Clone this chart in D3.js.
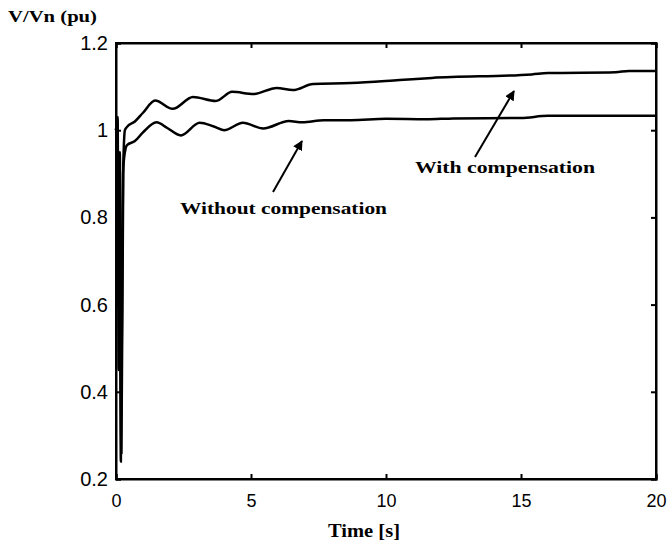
<!DOCTYPE html>
<html>
<head>
<meta charset="utf-8">
<script src="https://cdn.jsdelivr.net/npm/d3@7"></script>
<style>
  body { margin: 0; background: #fff; }
  .tick text { font-family: "Liberation Sans", Arial, sans-serif; }
  .lbl { font-family: "Liberation Serif", "DejaVu Serif", serif; font-weight: bold; }
</style>
</head>
<body>
<script>
// time [s], voltage [pu]
var withoutTime = [0, 0.05, 0.09, 0.13, 0.18, 0.26, 0.33, 0.41, 0.7, 1.0, 1.5, 1.9, 2.4, 3.1, 3.6, 4.0, 4.7, 5.45, 6.4, 6.9, 7.7, 8.7, 10, 11.5, 12.5, 15, 16, 20];
var withoutV    = [1.0, 1.02, 0.6, 0.9, 0.24, 0.9, 0.95, 0.966, 0.975, 0.995, 1.018, 1.005, 0.988, 1.017, 1.009, 1.0, 1.017, 1.004, 1.021, 1.018, 1.023, 1.023, 1.026, 1.025, 1.027, 1.028, 1.033, 1.033];

var withTime = [0, 0.06, 0.1, 0.14, 0.2, 0.27, 0.33, 0.4, 0.7, 1.0, 1.45, 2.1, 2.85, 3.7, 4.3, 5.1, 5.95, 6.55, 7.3, 8.7, 10.5, 11.7, 15.4, 16, 18.5, 19, 20];
var withV    = [1.0, 1.03, 0.45, 0.95, 0.26, 0.92, 1.0, 1.007, 1.02, 1.04, 1.068, 1.049, 1.076, 1.067, 1.088, 1.083, 1.097, 1.092, 1.106, 1.108, 1.115, 1.12, 1.128, 1.131, 1.133, 1.136, 1.136];

var xTicks = [0, 5, 10, 15, 20];
var yTicks = [0.2, 0.4, 0.6, 0.8, 1, 1.2];

var width = 669, height = 544,
    marginLeft = 116, marginTop = 43, marginRight = 13, marginBottom = 65,
    chartWidth = width - marginLeft - marginRight,
    chartHeight = height - marginTop - marginBottom;

var svg = d3.select("body").append("svg")
    .attr("width", width)
    .attr("height", height);

var chart = svg.append("g")
    .attr("transform", "translate(" + marginLeft + "," + marginTop + ")");

var xScale = d3.scaleLinear().domain([0, 20]).range([0, chartWidth]);
var yScale = d3.scaleLinear().domain([0.2, 1.2]).range([chartHeight, 0]);

// axes, ticks pointing inward like the original
var xAxis = d3.axisBottom(xScale).tickValues(xTicks).tickSize(-5).tickPadding(15)
    .tickFormat(d3.format("d"));
chart.append("g")
    .attr("class", "x axis")
    .attr("transform", "translate(0," + chartHeight + ")")
    .call(xAxis);

var yAxis = d3.axisLeft(yScale).tickValues(yTicks).tickSize(-5).tickPadding(8)
    .tickFormat(function(d) { return d === 1 ? "1" : d3.format(".1f")(d); });
chart.append("g").attr("class", "y axis").call(yAxis);

chart.append("g").call(d3.axisTop(xScale).tickValues(xTicks).tickSize(-5).tickFormat(""));
chart.append("g").attr("transform", "translate(" + chartWidth + ",0)")
    .call(d3.axisRight(yScale).tickValues(yTicks).tickSize(-5).tickFormat(""));

chart.selectAll(".domain").attr("stroke", "#000").attr("stroke-width", 2);
chart.selectAll(".tick line").attr("stroke", "#000").attr("stroke-width", 2);
chart.selectAll(".x.axis .tick text").style("font-size", "18px").attr("fill", "#000");
chart.selectAll(".y.axis .tick text").style("font-size", "20px").attr("fill", "#000");

// box
chart.append("rect")
    .attr("width", chartWidth).attr("height", chartHeight)
    .attr("fill", "none").attr("stroke", "#000").attr("stroke-width", 2);

var line = d3.line()
    .x(function(d) { return xScale(d[0]); })
    .y(function(d) { return yScale(d[1]); })
    .curve(d3.curveMonotoneX);

var series = [d3.zip(withoutTime, withoutV), d3.zip(withTime, withV)];
chart.selectAll(".curve")
    .data(series)
    .enter()
    .append("path")
        .attr("class", "curve")
        .attr("d", line)
        .attr("fill", "none")
        .attr("stroke", "#000")
        .attr("stroke-width", 2.5);

// labels
svg.append("text").attr("class", "lbl")
    .attr("x", 8).attr("y", 22)
    .attr("textLength", 89).attr("lengthAdjust", "spacingAndGlyphs")
    .style("font-size", "17px")
    .text("V/Vn (pu)");

svg.append("text").attr("class", "lbl")
    .attr("x", 328).attr("y", 537)
    .attr("textLength", 72).attr("lengthAdjust", "spacingAndGlyphs")
    .style("font-size", "18px")
    .text("Time [s]");

svg.append("text").attr("class", "lbl")
    .attr("x", 180).attr("y", 214)
    .attr("textLength", 207).attr("lengthAdjust", "spacingAndGlyphs")
    .style("font-size", "17px")
    .text("Without compensation");

svg.append("text").attr("class", "lbl")
    .attr("x", 415).attr("y", 173)
    .attr("textLength", 180).attr("lengthAdjust", "spacingAndGlyphs")
    .style("font-size", "17px")
    .text("With compensation");

// arrows
svg.append("defs").append("marker")
    .attr("id", "head").attr("viewBox", "0 0 10 10")
    .attr("refX", 9).attr("refY", 5)
    .attr("markerWidth", 5).attr("markerHeight", 5)
    .attr("orient", "auto")
  .append("path").attr("d", "M0,0 L10,5 L0,10 Z").attr("fill", "#000");

var arrows = [[273, 192, 302, 141], [475, 157, 514, 91]];
svg.selectAll(".arrow")
    .data(arrows)
    .enter()
    .append("line")
        .attr("class", "arrow")
        .attr("x1", function(d) { return d[0]; })
        .attr("y1", function(d) { return d[1]; })
        .attr("x2", function(d) { return d[2]; })
        .attr("y2", function(d) { return d[3]; })
        .attr("stroke", "#000")
        .attr("stroke-width", 2)
        .attr("marker-end", "url(#head)");
</script>
</body>
</html>
